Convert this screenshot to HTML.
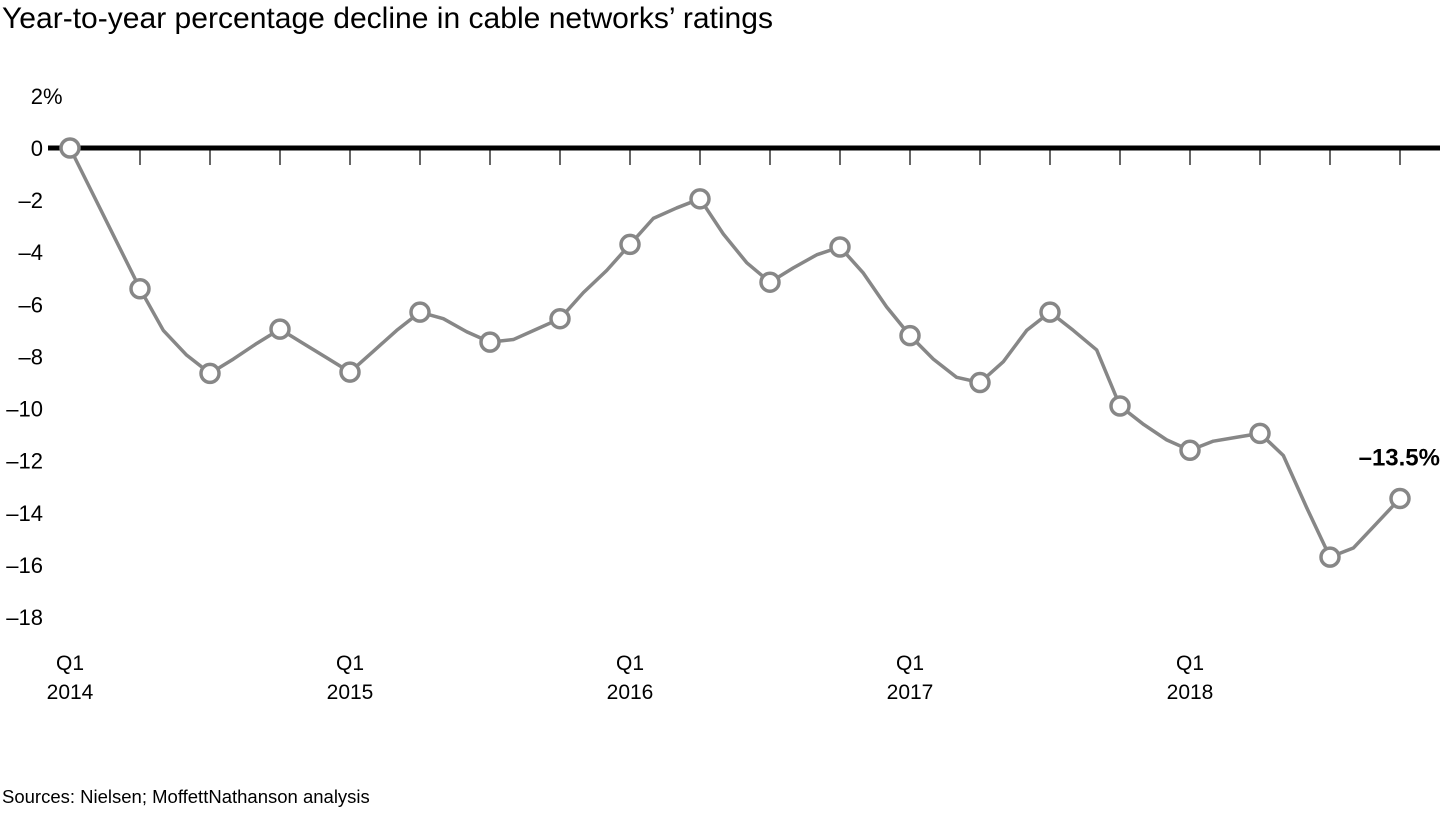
<!DOCTYPE html>
<html><head><meta charset="utf-8"><style>
body{margin:0;background:#fff;width:1440px;height:810px;overflow:hidden;font-family:"Liberation Sans",Arial,sans-serif}
</style></head><body>
<svg id="chart" width="1440" height="810" xmlns="http://www.w3.org/2000/svg" font-family="Liberation Sans, Arial, sans-serif">
<text x="2" y="28" font-size="30" fill="#000" textLength="771" lengthAdjust="spacingAndGlyphs">Year-to-year percentage decline in cable networks’ ratings</text>
<text x="2" y="803" font-size="18.5" fill="#000">Sources: Nielsen; MoffettNathanson analysis</text>
<g id="g"></g>
</svg>
<script>
const monthlyValues=[0,-1.8,-3.6,-5.4,-7.0,-7.95,-8.65,-8.1,-7.5,-6.95,-7.5,-8.05,-8.6,-7.8,-7.0,-6.3,-6.55,-7.05,-7.45,-7.35,-6.95,-6.55,-5.55,-4.7,-3.7,-2.7,-2.3,-1.95,-3.3,-4.4,-5.15,-4.6,-4.1,-3.8,-4.8,-6.1,-7.2,-8.1,-8.8,-9.0,-8.2,-7.0,-6.3,-7.0,-7.75,-9.9,-10.6,-11.2,-11.6,-11.25,-11.1,-10.95,-11.8,-13.8,-15.7,-15.35,-14.4,-13.45];
const yTicks=[2,0,-2,-4,-6,-8,-10,-12,-14,-16,-18];
const yTickLabels=["2%","0","\u20132","\u20134","\u20136","\u20138","\u201310","\u201312","\u201314","\u201316","\u201318"];
const xLabelQuarters=[0,4,8,12,16];
const xLabelYears=["2014","2015","2016","2017","2018"];
const endLabel="\u201313.5%";
const NS="http://www.w3.org/2000/svg";
const g=document.getElementById('g');
const x=m=>70+m*(70/3);
const y=v=>148-v*26.06;
function el(t,a){const e=document.createElementNS(NS,t);for(const k in a)e.setAttribute(k,a[k]);g.appendChild(e);return e;}
yTicks.forEach((v,i)=>{
 const t=el('text',{x:43,y:y(v)+8,'font-size':22,'text-anchor':'end',fill:'#000'});
 
 
 const lab=yTickLabels[i];
 if(lab.endsWith('%')){t.textContent=lab.slice(0,-1);const t2=el('text',{x:43,y:y(v)+8,'font-size':22,fill:'#000'});t2.textContent='%';
 
 }
 else t.textContent=lab;
});
const nQ=Math.floor((monthlyValues.length-1)/3)+1;
for(let q=1;q<nQ;q++){
 const tk=el('line',{x1:x(q*3),x2:x(q*3),y1:150,y2:165,stroke:'#333','stroke-width':1.5});
 
 
}
const zl=el('line',{x1:48,x2:1440,y1:y(0),y2:y(0),stroke:'#000','stroke-width':5});


xLabelQuarters.forEach((q,i)=>{
 const t=el('text',{x:x(q*3),y:670,'font-size':21,'text-anchor':'middle',fill:'#000'});t.textContent='Q1';
 
 
 const t2=el('text',{x:x(q*3),y:699,'font-size':21,'text-anchor':'middle',fill:'#000'});t2.textContent=xLabelYears[i];
 
 
});
const p=el('polyline',{points:monthlyValues.map((v,i)=>x(i)+','+y(v)).join(' '),fill:'none',stroke:'#878787','stroke-width':3.5,'stroke-linejoin':'round'});


for(let i=0;i<monthlyValues.length;i+=3){
 const c=el('circle',{cx:x(i),cy:y(monthlyValues[i]),r:9,fill:'#fff',stroke:'#878787','stroke-width':3.5});
 
 
}
const last=monthlyValues.length-1;
const el2=el('text',{x:x(last)+40,y:y(monthlyValues[last])-33,'font-size':24,'font-weight':'bold','text-anchor':'end',fill:'#000'});
el2.textContent=endLabel;


</script>
</body></html>
